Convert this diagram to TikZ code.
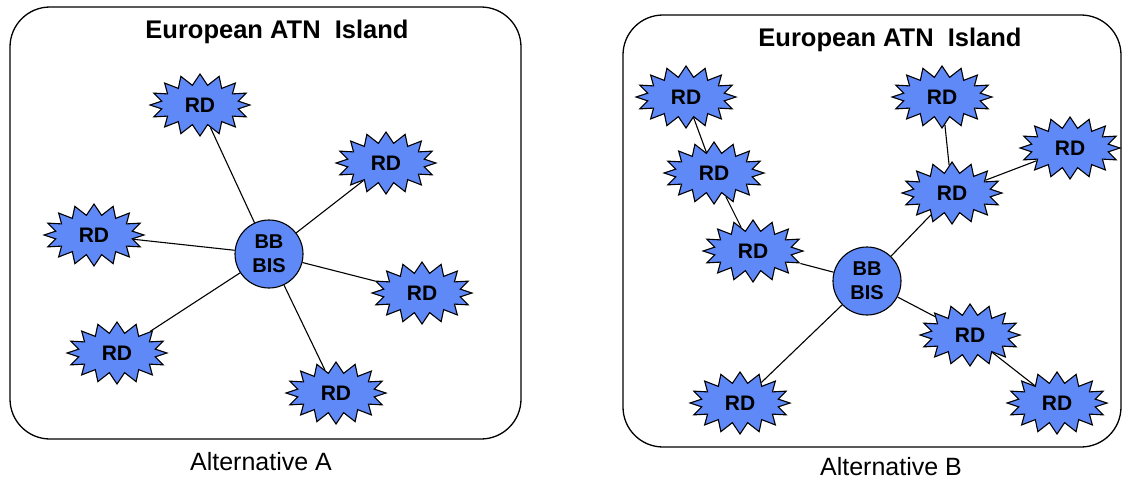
\documentclass[tikz,border=0pt]{standalone}
\usepackage{fontspec}
\setmainfont{Liberation Sans}
\usetikzlibrary{shapes.symbols}
\definecolor{rdblue}{RGB}{95,137,247}

\begin{document}
\begin{tikzpicture}[x=1pt,y=-1pt]

\tikzset{rd/.style = {shape=starburst, draw, fill=rdblue, line width=1.1pt,
  starburst points=16, starburst point height=11pt, random starburst=0,
  inner sep=0pt, minimum width=100pt, minimum height=62pt,
  font=\fontsize{21}{22}\selectfont\bfseries}}
\tikzset{bis/.style = {shape=circle, draw, fill=rdblue, line width=1.1pt,
  minimum size=68pt, inner sep=0pt, align=center,
  font=\fontsize{20}{24}\selectfont\bfseries}}
\tikzset{island/.style = {draw, line width=1.3pt, rounded corners=40pt}}
\useasboundingbox (0,0) rectangle (1128,479);

%islands
\draw[island] (10,7) rectangle (521,439);
\draw[island] (623,15) rectangle (1121,447);
\node[font=\fontsize{25.5}{26}\selectfont\bfseries] (ta) at (277,32) {European ATN\ \ Island};
\node[font=\fontsize{25.5}{26}\selectfont\bfseries] (tb) at (890,40) {European ATN\ \ Island};
\node[inner sep=0pt, font=\fontsize{25}{27}\selectfont] (la) at (261,462) {Alternative A};
\node[inner sep=0pt, font=\fontsize{25}{27}\selectfont] (lb) at (891,467) {Alternative B};

%verticies A
\node[bis] (a0) at (269,254) {BB\\BIS};
\node[rd] (a1) at (200,105) {RD};
\node[rd] (a2) at (386,163) {RD};
\node[rd] (a3) at (94,235) {RD};
\node[rd] (a4) at (422,293) {RD};
\node[rd] (a5) at (117,353) {RD};
\node[rd] (a6) at (336,393) {RD};

%verticies B
\node[bis] (b0) at (867,281) {BB\\BIS};
\node[rd] (b1) at (686,97) {RD};
\node[rd] (b2) at (714,173) {RD};
\node[rd] (b3) at (753,251) {RD};
\node[rd] (b4) at (942,97) {RD};
\node[rd] (b5) at (1070,148) {RD};
\node[rd] (b6) at (952,193) {RD};
\node[rd] (b7) at (970,335) {RD};
\node[rd] (b8) at (740,403) {RD};
\node[rd] (b9) at (1057,403) {RD};

%edges
\foreach \n in {a1,a2,a3,a4,a5,a6}
  \draw[line width=1.1pt] (a0) -- (\n);
\draw[line width=1.1pt] (b1) -- (b2);
\draw[line width=1.1pt] (b2) -- (b3);
\draw[line width=1.1pt] (b3) -- (b0);
\draw[line width=1.1pt] (b0) -- (b6);
\draw[line width=1.1pt] (b6) -- (b4);
\draw[line width=1.1pt] (b6) -- (b5);
\draw[line width=1.1pt] (b0) -- (b7);
\draw[line width=1.1pt] (b7) -- (b9);
\draw[line width=1.1pt] (b0) -- (b8);

\end{tikzpicture}
\end{document}
